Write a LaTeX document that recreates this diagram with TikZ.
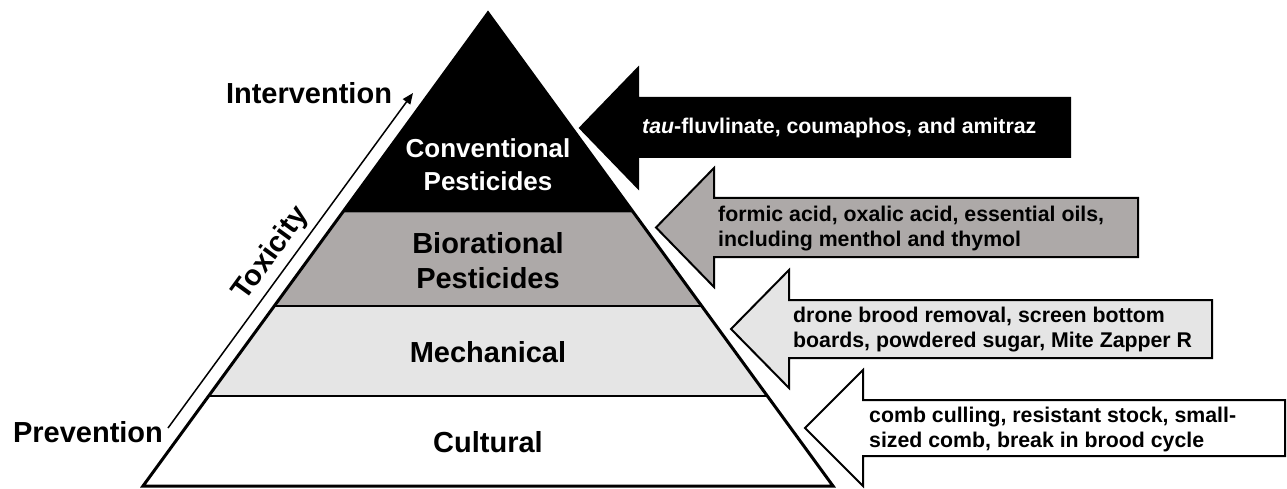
\documentclass[tikz,border=0pt]{standalone}
\usepackage{fontspec}
\setmainfont{Liberation Sans}
\usetikzlibrary{calc,arrows.meta}
\definecolor{midgray}{RGB}{173,169,168}
\definecolor{lightgray2}{RGB}{229,229,229}
\begin{document}
\begin{tikzpicture}[x=1pt,y=-1pt,
  sidelabel/.style={font=\fontsize{29}{34}\selectfont\bfseries, inner sep=0},
  layerlabel/.style={font=\fontsize{29}{35}\selectfont\bfseries, align=center, inner sep=0},
  notetext/.style={font=\fontsize{21.3}{25}\selectfont\bfseries, align=left, anchor=west, inner sep=0},
  blockarrow/.style={draw=black, line width=2pt, line join=miter},
  divider/.style={line width=2pt},
  outline/.style={line width=3pt, line join=miter}]
\useasboundingbox (0,0) rectangle (1287,489);

% pyramid corners
\coordinate (A) at (488,13);
\coordinate (L) at (143,486);
\coordinate (R) at (833,486);
\coordinate (L1) at ($(L)!0.578!(A)$);
\coordinate (R1) at ($(R)!0.578!(A)$);
\coordinate (L2) at ($(L)!0.380!(A)$);
\coordinate (R2) at ($(R)!0.380!(A)$);
\coordinate (L3) at ($(L)!0.191!(A)$);
\coordinate (R3) at ($(R)!0.191!(A)$);

\fill[black] (A) -- (L1) -- (R1) -- cycle;
\fill[midgray] (L1) -- (L2) -- (R2) -- (R1) -- cycle;
\fill[lightgray2] (L2) -- (L3) -- (R3) -- (R2) -- cycle;
\draw[divider] (L2) -- (R2);
\draw[divider] (L3) -- (R3);
\draw[outline] (A) -- (L) -- (R) -- cycle;

% layer labels
\node[layerlabel, text=white, font=\fontsize{26}{33}\selectfont\bfseries] (conv) at (488,165) {Conventional\\Pesticides};
\node[layerlabel] (bio) at (488,261) {Biorational\\Pesticides};
\node[layerlabel] (mech) at (488,352) {Mechanical};
\node[layerlabel] (cult) at (488,442) {Cultural};

% side labels and toxicity arrow
\node[sidelabel] (inter) at (309,93) {Intervention};
\node[sidelabel] (prev) at (88,432) {Prevention};
\coordinate (tstart) at (168,428);
\coordinate (tend) at (413,93);
\draw[line width=1.5pt, -{Triangle[length=11pt,width=9pt]}] (tstart) -- (tend);
\node[sidelabel, rotate=54] (tox) at (271,254) {Toxicity};

% block arrows
\draw[blockarrow, fill=black] (580,128) -- (638,68) -- (638,98) -- (1070,98) -- (1070,157) -- (638,157) -- (638,188) -- cycle;
\node[notetext, text=white] (n1) at (642,128) {\textit{tau}-fluvlinate, coumaphos, and amitraz};

\draw[blockarrow, fill=midgray] (656,227.5) -- (714,168) -- (714,198) -- (1138,198) -- (1138,257) -- (714,257) -- (714,287) -- cycle;
\node[notetext] (n2) at (718,229) {formic acid, oxalic acid, essential oils,\\including menthol and thymol};

\draw[blockarrow, fill=lightgray2] (731,329) -- (789,270) -- (789,300) -- (1212,300) -- (1212,358) -- (789,358) -- (789,388) -- cycle;
\node[notetext] (n3) at (793,330) {drone brood removal, screen bottom\\boards, powdered sugar, Mite Zapper R};

\draw[blockarrow, fill=white] (805,428) -- (863,370) -- (863,400) -- (1285,400) -- (1285,456) -- (863,456) -- (863,486) -- cycle;
\node[notetext] (n4) at (869,429) {comb culling, resistant stock, small-\\sized comb, break in brood cycle};
\end{tikzpicture}
\end{document}
